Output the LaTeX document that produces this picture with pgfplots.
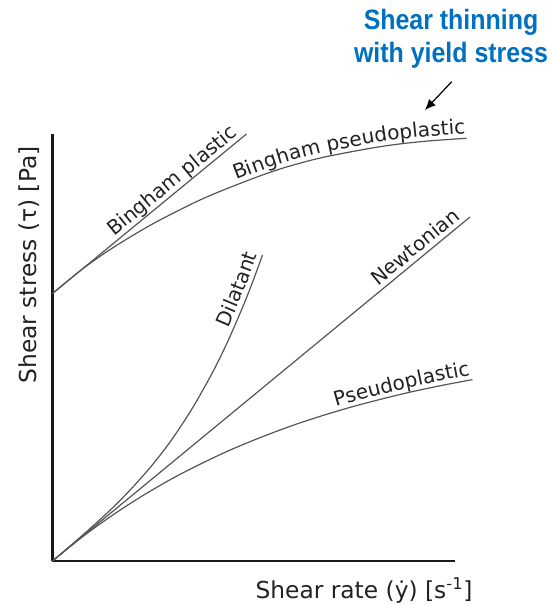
\documentclass[border=0pt]{standalone}
\usepackage{fontspec}
\setmainfont{DejaVu Sans}
\newfontfamily\titlefont{Liberation Sans}[FakeStretch=0.89]
\usepackage{pgfplots}
\pgfplotsset{compat=1.18}
\usetikzlibrary{decorations.text,arrows.meta}
\definecolor{titleblue}{HTML}{0070C0}
\definecolor{curvegray}{HTML}{555555}
\definecolor{txt}{HTML}{222222}
\begin{document}
\begin{tikzpicture}
\begin{axis}[
  x=0.75pt, y=0.75pt,
  xmin=0, xmax=402.5, ymin=0, ymax=426.5,
  axis lines=left,
  axis line style={-, line width=1.6pt, color=black!90},
  every outer x axis line/.append style={-},
  every outer y axis line/.append style={-},
  ticks=none,
  clip=false,
  curve/.style={curvegray, line width=0.9pt, smooth, postaction={decorate}},
]
% Bingham plastic
\addplot[curvegray, line width=0.9pt, postaction={decorate},
  decoration={text along path, text color=txt, raise=3.5pt,
    text align={right, right indent=5pt},
    text={|\fontsize{15}{18}\selectfont|Bingham plastic}}]
  coordinates {(0,267.5) (194,427)};
% Bingham pseudoplastic
\addplot[curve,
  decoration={text along path, text color=txt, raise=3.5pt,
    text align={right, right indent=0.5pt},
    text={|\fontsize{15}{18}\selectfont|Bingham pseudoplastic}}]
  coordinates {(0,267.5) (30,292) (60,313) (100,337) (147.5,361) (190,378.5) (227.5,392) (270,403.5) (327.5,414.3) (370,419.5) (414,422.7)};
% Dilatant
\addplot[curve,
  decoration={text along path, text color=txt, raise=3.5pt,
    text align={right, right indent=1pt},
    text={|\fontsize{15}{18}\selectfont|Dilatant}}]
  coordinates {(0,0) (20,17.1) (40,34.6) (60,53.1) (80,73.5) (100,96.3) (119,121) (140,153) (160,188.5) (175,219) (190,253.5) (200,278.7) (210,306)};
% Newtonian
\addplot[curvegray, line width=0.9pt, postaction={decorate},
  decoration={text along path, text color=txt, raise=3.5pt,
    text align={right, right indent=6pt},
    text={|\fontsize{15}{18}\selectfont|Newtonian}}]
  coordinates {(0,0) (417.5,344)};
% Pseudoplastic
\addplot[curve,
  decoration={text along path, text color=txt, raise=3.5pt,
    text align={right, right indent=1pt},
    text={|\fontsize{15}{18}\selectfont|Pseudoplastic}}]
  coordinates {(0,0) (30,24.2) (60,45.8) (90,65.2) (120,82.6) (150,98.0) (180,112.0) (210,124.3) (240,135.5) (270,145.4) (300,154.3) (330,162.2) (360,169.4) (390,175.7) (420,181.4)};

% axis labels
\node[anchor=base, text=txt, font=\fontsize{17.5}{21}\selectfont] at (axis cs:311.5,-37) {Shear rate (ẏ) [s\textsuperscript{-1}]};
\node[anchor=base, rotate=90, text=txt, font=\fontsize{17.5}{21}\selectfont] at (axis cs:-15.8,296) {Shear stress (τ) [Pa]};

% title annotation
\node[anchor=base, text=titleblue, font=\titlefont\bfseries\fontsize{21}{25}\selectfont] at (axis cs:398.5,531) {Shear thinning};
\node[anchor=base, text=titleblue, font=\titlefont\bfseries\fontsize{21}{25}\selectfont] at (axis cs:398.5,498) {with yield stress};
\draw[-{Latex[length=8pt,width=7pt]}, line width=0.9pt, black] (axis cs:399.2,479.3) -- (axis cs:372.5,451);

\coordinate (bl) at (axis cs:-52.5,-44);
\coordinate (tr) at (axis cs:498.5,561);
\end{axis}
\pgfresetboundingbox
\path[use as bounding box] (bl) rectangle (tr);
\end{tikzpicture}
\end{document}
